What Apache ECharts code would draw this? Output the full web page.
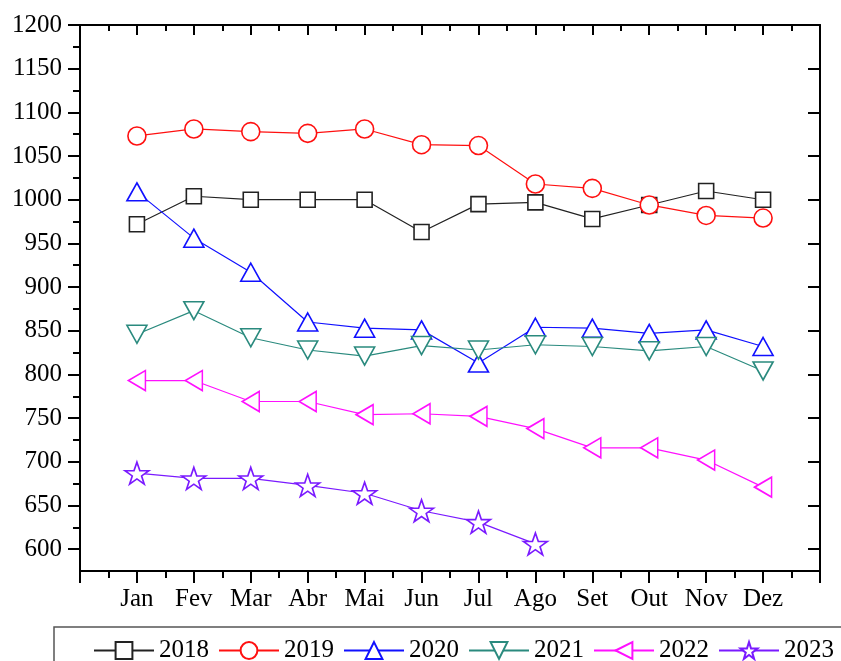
<!DOCTYPE html>
<html>
<head>
<meta charset="utf-8">
<script src="https://cdn.jsdelivr.net/npm/echarts@6/dist/echarts.min.js"></script>
<style>
  html, body { margin: 0; padding: 0; background: #fff; }
  #chart { width: 841px; height: 661px; }
</style>
</head>
<body>
<div id="chart"></div>
<script>
// ---- data ----
const months = ['Jan', 'Fev', 'Mar', 'Abr', 'Mai', 'Jun', 'Jul', 'Ago', 'Set', 'Out', 'Nov', 'Dez'];
const y2018 = [972, 1004, 1000, 1000, 1000, 963, 995, 997, 978, 994, 1010, 1000];
const y2019 = [1073, 1081, 1078, 1076, 1081, 1063, 1062, 1018, 1013, 994, 982, 979];
const y2020 = [1009, 956, 917, 860, 853, 851, 813, 854, 853, 847, 851, 832];
const y2021 = [846, 873, 842, 828, 821, 833, 828, 834, 832, 827, 832, 804];
const y2022 = [793, 793, 769, 769, 754, 755, 752, 738, 716, 716, 702, 671];
const y2023 = [687, 681, 681, 673, 664, 644, 631, 606];
const yLabels = [600, 650, 700, 750, 800, 850, 900, 950, 1000, 1050, 1100, 1150, 1200];
const yMinor = [625, 675, 725, 775, 825, 875, 925, 975, 1025, 1075, 1125, 1175];

const FONT = 'Liberation Serif';
const STAR = 'path://M50,0 L61.8,35.1 L98.1,35.1 L68.7,56.7 L79.4,90.5 L50,69.1 L20.6,90.5 L31.3,56.7 L1.9,35.1 L38.2,35.1 Z';

function pts(arr) { return arr.map((v, i) => [i + 1, v]); }

function mkSeries(name, arr, color, symbol, size, rotate) {
  return {
    name: name, type: 'line', data: pts(arr),
    xAxisIndex: 0, yAxisIndex: 0,
    symbol: symbol, symbolSize: size, symbolRotate: rotate || 0,
    showAllSymbol: true,
    lineStyle: { color: color, width: 1.2 },
    itemStyle: { color: '#fff', borderColor: color, borderWidth: 1.6 },
    emphasis: { disabled: true },
    animation: false
  };
}

const axisLineStyle = { color: '#000', width: 2 };
const yCommon = { type: 'value', min: 575, max: 1200, splitLine: { show: false } };
const xCommon = { type: 'value', min: 0, max: 13, interval: 1, splitLine: { show: false }, minorSplitLine: { show: false } };

const chart = echarts.init(document.getElementById('chart'), null, { renderer: 'canvas' });
chart.setOption({
  animation: false,
  backgroundColor: '#fff',
  grid: { left: 80, right: 21, top: 25, bottom: 90, containLabel: false },
  xAxis: [
    Object.assign({}, xCommon, {
      position: 'bottom',
      axisLine: { show: true, onZero: false, lineStyle: axisLineStyle },
      axisTick: { show: true, inside: false, length: 12, lineStyle: axisLineStyle },
      minorTick: { show: true, splitNumber: 2, length: 7, lineStyle: axisLineStyle },
      axisLabel: {
        show: true, margin: 16, color: '#000', fontFamily: FONT, fontSize: 25,
        formatter: v => (v >= 1 && v <= 12) ? months[v - 1] : ''
      }
    }),
    Object.assign({}, xCommon, {
      position: 'top',
      axisLine: { show: true, onZero: false, lineStyle: axisLineStyle },
      axisTick: { show: true, inside: true, length: 10, lineStyle: axisLineStyle },
      minorTick: { show: true, splitNumber: 2, length: 6, lineStyle: axisLineStyle },
      axisLabel: { show: false }
    })
  ],
  yAxis: [
    Object.assign({}, yCommon, {
      position: 'left',
      axisLine: { show: true, onZero: false, lineStyle: axisLineStyle },
      axisTick: { show: true, inside: false, length: 12, customValues: yLabels, lineStyle: axisLineStyle },
      axisLabel: {
        show: true, margin: 18, color: '#000', fontFamily: FONT, fontSize: 25, customValues: yLabels,
        formatter: v => String(v)
      }
    }),
    Object.assign({}, yCommon, {
      position: 'left',
      axisLine: { show: false },
      axisTick: { show: true, inside: false, length: 7, customValues: yMinor, lineStyle: axisLineStyle },
      axisLabel: { show: false }
    }),
    Object.assign({}, yCommon, {
      position: 'right',
      axisLine: { show: true, onZero: false, lineStyle: axisLineStyle },
      axisTick: { show: true, inside: true, length: 12, customValues: yLabels, lineStyle: axisLineStyle },
      axisLabel: { show: false }
    }),
    Object.assign({}, yCommon, {
      position: 'right',
      axisLine: { show: false },
      axisTick: { show: true, inside: true, length: 6, customValues: yMinor, lineStyle: axisLineStyle },
      axisLabel: { show: false }
    })
  ],
  legend: {
    left: 93, top: 638,
    padding: 0,
    itemWidth: 60, itemHeight: 21, itemGap: 9,
    textStyle: { color: '#000', fontFamily: FONT, fontSize: 25 },
    data: ['2018', '2019', '2020', '2021', '2022', '2023']
  },
  graphic: [{
    type: 'rect', silent: true, z: -1,
    shape: { x: 54, y: 627, width: 900, height: 100 },
    style: { fill: 'none', stroke: '#555', lineWidth: 1.5 }
  }],
  series: [
    mkSeries('2018', y2018, '#222222', 'rect', 15),
    mkSeries('2019', y2019, '#ff1010', 'circle', 18),
    mkSeries('2020', y2020, '#1010ff', 'triangle', [20, 18]),
    mkSeries('2021', y2021, '#2a8a7e', 'triangle', [20, 18], 180),
    mkSeries('2022', y2022, '#ff10ff', 'triangle', [20, 17], 90),
    mkSeries('2023', y2023, '#7a1aff', STAR, [24, 22])
  ]
});
</script>
</body>
</html>
